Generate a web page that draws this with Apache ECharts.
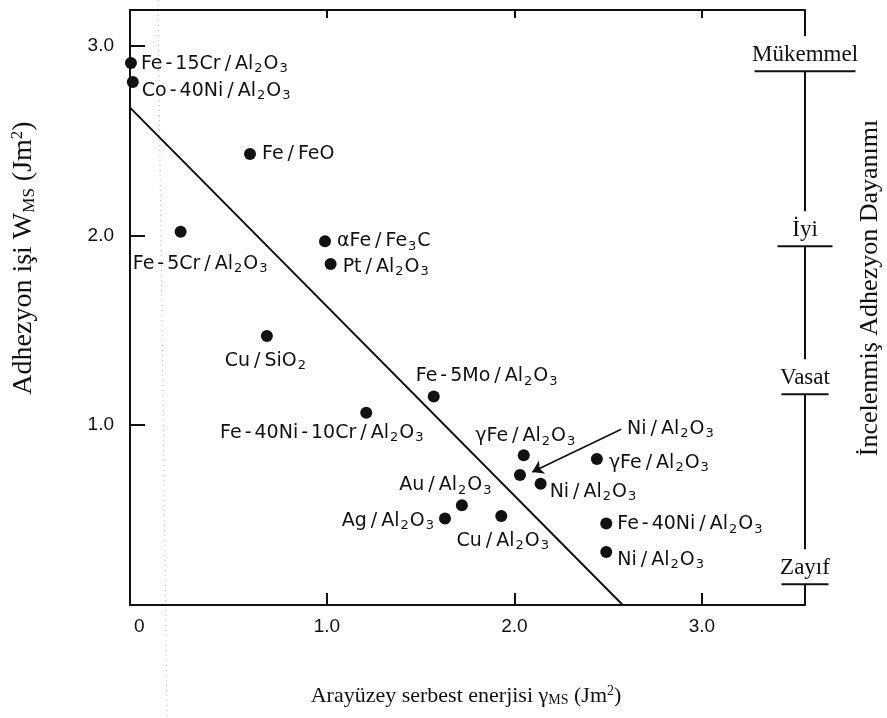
<!DOCTYPE html>
<html>
<head>
<meta charset="utf-8">
<script src="https://cdn.jsdelivr.net/npm/echarts@6/dist/echarts.min.js"></script>
<style>
  html, body { margin: 0; padding: 0; background: #fff; }
  #chart { width: 887px; height: 718px; }
</style>
</head>
<body>
<div id="chart"></div>
<script>
// Metal / ceramic couples: interfacial free energy (x) vs. work of adhesion (y)
const pointNames = [
  'Fe-15Cr/Al2O3', 'Co-40Ni/Al2O3', 'Fe/FeO', 'Fe-5Cr/Al2O3', 'αFe/Fe3C', 'Pt/Al2O3',
  'Cu/SiO2', 'Fe-5Mo/Al2O3', 'Fe-40Ni-10Cr/Al2O3', 'γFe/Al2O3', 'Ni/Al2O3', 'Ni/Al2O3',
  'γFe/Al2O3', 'Au/Al2O3', 'Ag/Al2O3', 'Cu/Al2O3', 'Fe-40Ni/Al2O3', 'Ni/Al2O3'
];
const interfaceEnergy = [
  -0.045, -0.035, 0.59, 0.22, 0.99, 1.02,
  0.68, 1.57, 1.21, 2.05, 2.03, 2.14,
  2.44, 1.72, 1.63, 1.93, 2.49, 2.49
];
const adhesionWork = [
  2.91, 2.81, 2.43, 2.02, 1.97, 1.85,
  1.47, 1.15, 1.065, 0.84, 0.736, 0.69,
  0.82, 0.576, 0.506, 0.52, 0.48, 0.33
];

// Boundary between good and poor adhesion
const boundaryLine = [[-0.05, 2.675], [2.578, 0.05]];
// Pointer from the separate Ni/Al2O3 caption to its point
const pointerLine = [[2.57, 0.977], [2.095, 0.752]];

// Axis ticks and labels
const xTickValues = [1, 2, 3];
const xLabelValues = [0, 1, 2, 3];
const yTickValues = [1, 2, 3];
const yLabelValues = [1, 2, 3];
const X_MIN = -0.05, X_MAX = 3.55, Y_MIN = 0.05, Y_MAX = 3.19;

// Observed adhesion strength rating scale (right side)
const ratingNames = ['Mükemmel', 'İyi', 'Vasat', 'Zayıf'];
const ratingLevels = [2.867, 1.943, 1.162, 0.159];

// ---- styling (kept apart from the values) ----
const ratingBarWidths = [101, 55, 47, 47];
const DOT = 12;
// [align, dx, dy] of each caption relative to its point centre
const labelPlacement = [
  ['left', 10, 1], ['left', 9, 9], ['left', 12, 0], ['center', 20, 32], ['left', 12, 0], ['left', 12, 3],
  ['center', -1, 25], ['left', -18, -20], ['center', -44, 20], ['center', 2, -19], ['left', 107, -46], ['left', 9, 8],
  ['left', 12, 4], ['center', -16, -20], ['right', -10, 2], ['center', 2, 25], ['left', 11, 1], ['left', 11, 8]
];

const INK = '#111';
const LABEL_FONT = 'DejaVu Sans';
const SERIF = 'Liberation Serif';

function formulaRich(name) {
  const parts = name.split('/');
  const left = parts[0].split('-').join('{h|-}');
  const right = parts[1].replace(/(\d)/g, '{sub|$1}');
  return left + '{s|/}' + right;
}

const labelRich = {
  h: { fontFamily: LABEL_FONT, fontSize: 19, color: INK, padding: [0, 3, 0, 3] },
  s: { fontFamily: LABEL_FONT, fontSize: 19, color: INK, padding: [0, 4, 0, 4] },
  sub: { fontFamily: LABEL_FONT, fontSize: 13, color: INK, padding: [10, 1, 0, 1] }
};

const scatterData = pointNames.map((name, i) => {
  const pl = labelPlacement[i];
  return {
    name: name,
    value: [interfaceEnergy[i], adhesionWork[i]],
    label: { position: [DOT / 2 + pl[1], DOT / 2 + pl[2]], align: pl[0], verticalAlign: 'middle' }
  };
});

const chart = echarts.init(document.getElementById('chart'), null, { renderer: 'canvas' });

const axisLineStyle = { color: INK, width: 2 };
const serifRich = {
  sub: { fontFamily: SERIF, fontSize: 17, fill: INK, padding: [11, 0, 0, 0] },
  sup: { fontFamily: SERIF, fontSize: 17, fill: INK, padding: [0, 0, 12, 0] }
};

chart.setOption({
  backgroundColor: '#fff',
  animation: false,
  grid: { left: 130, right: 82, top: 10, bottom: 113 },
  xAxis: [
    {
      type: 'value', position: 'bottom', min: X_MIN, max: X_MAX,
      axisLine: { show: true, onZero: false, lineStyle: axisLineStyle },
      axisTick: { show: true, inside: true, length: 12, customValues: xTickValues, lineStyle: { color: INK, width: 2 } },
      axisLabel: {
        customValues: xLabelValues, margin: 12, fontSize: 19, fontFamily: 'Liberation Sans', color: INK,
        formatter: v => (v === 0 ? '0' : v.toFixed(1))
      },
      splitLine: { show: false }
    },
    {
      type: 'value', position: 'top', min: X_MIN, max: X_MAX,
      axisLine: { show: true, onZero: false, lineStyle: axisLineStyle },
      axisTick: { show: true, inside: true, length: 8, customValues: xTickValues, lineStyle: { color: INK, width: 2 } },
      axisLabel: { show: false },
      splitLine: { show: false }
    }
  ],
  yAxis: {
    type: 'value', min: Y_MIN, max: Y_MAX,
    axisLine: { show: true, onZero: false, lineStyle: axisLineStyle },
    axisTick: { show: true, inside: true, length: 15, customValues: yTickValues, lineStyle: { color: INK, width: 2 } },
    axisLabel: {
      customValues: yLabelValues, margin: 16, fontSize: 19, fontFamily: 'Liberation Sans', color: INK,
      formatter: v => v.toFixed(1)
    },
    splitLine: { show: false }
  },
  series: [
    {
      type: 'line',
      data: boundaryLine,
      symbol: 'none',
      silent: true,
      lineStyle: { color: INK, width: 2 },
      markLine: {
        silent: true,
        symbol: ['none', 'arrow'],
        symbolSize: 11,
        label: { show: false },
        lineStyle: { color: INK, width: 1.6, type: 'solid' },
        data: [[{ coord: pointerLine[0] }, { coord: pointerLine[1] }]]
      }
    },
    {
      type: 'scatter',
      data: scatterData,
      symbol: 'circle',
      symbolSize: DOT,
      itemStyle: { color: INK, opacity: 1 },
      label: {
        show: true,
        formatter: p => formulaRich(p.name),
        fontFamily: LABEL_FONT,
        fontSize: 19,
        color: INK,
        opacity: 1,
        rich: labelRich
      },
      labelLayout: { hideOverlap: false }
    },
    {
      type: 'custom',
      coordinateSystem: 'cartesian2d',
      clip: false,
      silent: true,
      data: ratingLevels.map((lv, i) => [X_MAX, lv, i]),
      encode: { x: 0, y: 1 },
      renderItem: function (params, api) {
        const i = api.value(2);
        const p = api.coord([api.value(0), api.value(1)]);
        const w = ratingBarWidths[i];
        const gap = 35;
        const children = [];
        children.push({
          type: 'line',
          shape: { x1: p[0] - w / 2, y1: p[1], x2: p[0] + w / 2, y2: p[1] },
          style: { stroke: INK, lineWidth: 2 }
        });
        children.push({
          type: 'text',
          x: p[0], y: p[1] - 5,
          style: {
            text: ratingNames[i], fill: INK, fontFamily: SERIF, fontSize: 23,
            align: 'center', verticalAlign: 'bottom'
          }
        });
        let yEnd;
        if (i < ratingLevels.length - 1) {
          yEnd = api.coord([X_MAX, ratingLevels[i + 1]])[1] - gap;
        } else {
          yEnd = api.coord([X_MAX, Y_MIN])[1];
        }
        children.push({
          type: 'line',
          shape: { x1: p[0], y1: p[1], x2: p[0], y2: yEnd },
          style: { stroke: INK, lineWidth: 2 }
        });
        if (i === 0) {
          const top = api.coord([X_MAX, Y_MAX])[1];
          children.push({
            type: 'line',
            shape: { x1: p[0], y1: top, x2: p[0], y2: p[1] - gap },
            style: { stroke: INK, lineWidth: 2 }
          });
        }
        return { type: 'group', children: children };
      }
    }
  ],
  graphic: [
    {
      type: 'line', silent: true, z: -1,
      shape: { x1: 158, y1: 0, x2: 167, y2: 718 },
      style: { stroke: '#b5b5b5', lineWidth: 1, lineDash: [1, 4] }
    },
    {
      type: 'text', x: 466, y: 696, silent: true,
      style: {
        text: 'Arayüzey serbest enerjisi γ{sub|MS} (Jm{sup|2})',
        fontFamily: SERIF, fontSize: 22, fill: INK, align: 'center', verticalAlign: 'middle',
        rich: {
          sub: { fontFamily: SERIF, fontSize: 14, fill: INK, padding: [9, 0, 0, 0] },
          sup: { fontFamily: SERIF, fontSize: 14, fill: INK, padding: [0, 0, 10, 0] }
        }
      }
    },
    {
      type: 'text', x: 24, y: 258, rotation: Math.PI / 2, silent: true,
      style: {
        text: 'Adhezyon işi W{sub|MS} (Jm{sup|2})',
        fontFamily: SERIF, fontSize: 28, fill: INK, align: 'center', verticalAlign: 'middle',
        rich: serifRich
      }
    },
    {
      type: 'text', x: 870, y: 288, rotation: Math.PI / 2, silent: true,
      style: {
        text: 'İncelenmiş Adhezyon Dayanımı',
        fontFamily: SERIF, fontSize: 26, fill: INK, align: 'center', verticalAlign: 'middle'
      }
    }
  ]
});
</script>
</body>
</html>
